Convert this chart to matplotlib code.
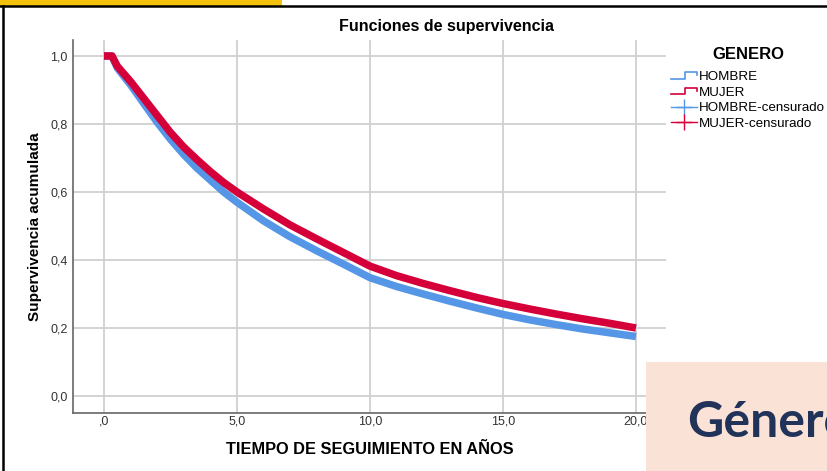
import numpy as np
import matplotlib
matplotlib.use("Agg")
import matplotlib.pyplot as plt
from matplotlib.lines import Line2D
from matplotlib.patches import Rectangle
from matplotlib.legend_handler import HandlerBase

# Kaplan-Meier survival estimates by sex (years of follow-up)
tiempo = [0.0, 0.3, 0.5, 1.0, 1.5, 2.0, 2.5, 3.0, 3.5, 4.0, 4.5, 5.0, 6.0, 7.0, 8.0, 9.0,
          10.0, 11.0, 12.0, 13.0, 14.0, 15.0, 16.0, 17.0, 18.0, 19.0, 20.0]
hombre = [1.0, 1.0, 0.965, 0.915, 0.86, 0.805, 0.755, 0.71, 0.67, 0.635, 0.60, 0.57,
          0.515, 0.468, 0.427, 0.388, 0.348, 0.322, 0.30, 0.279, 0.259, 0.24,
          0.224, 0.21, 0.197, 0.186, 0.175]
mujer = [1.0, 1.0, 0.97, 0.925, 0.875, 0.825, 0.775, 0.732, 0.695, 0.66, 0.628, 0.60,
         0.55, 0.503, 0.462, 0.422, 0.382, 0.354, 0.331, 0.31, 0.29, 0.272,
         0.256, 0.241, 0.227, 0.214, 0.20]

x_ticks = [0, 5, 10, 15, 20]
x_labels = [",0", "5,0", "10,0", "15,0", "20,0"]
y_ticks = [0.0, 0.2, 0.4, 0.6, 0.8, 1.0]
y_labels = ["0,0", "0,2", "0,4", "0,6", "0,8", "1,0"]

C_H = "#5596E6"
C_M = "#D5003A"
FONT = "Liberation Sans"

plt.rcParams["font.family"] = [FONT, "DejaVu Sans"]

W, H = 827, 471
fig = plt.figure(figsize=(W / 100, H / 100), dpi=100)
fig.patch.set_facecolor("white")

ax = fig.add_axes([73 / W, 1 - 413 / H, (666 - 73) / W, (413 - 40) / H])
ax.set_xlim(-1.165, 21.13)
ax.set_ylim(-0.05, 1.047)

ax.plot(tiempo, hombre, color=C_H, lw=5.4, solid_capstyle="butt",
        solid_joinstyle="round", zorder=3)
ax.plot(tiempo, mujer, color=C_M, lw=5.4, solid_capstyle="butt",
        solid_joinstyle="round", zorder=4)

ax.set_xticks(x_ticks)
ax.set_xticklabels(x_labels)
ax.set_yticks(y_ticks)
ax.set_yticklabels(y_labels)
ax.tick_params(axis="y", length=0, labelsize=9, colors="#333333", pad=4)
ax.tick_params(axis="x", length=0, labelsize=9, colors="#333333", pad=2)
ax.grid(True, color="#D0D0D0", lw=1.3)
ax.set_axisbelow(True)
for s in ["top", "right"]:
    ax.spines[s].set_visible(False)
for s in ["left", "bottom"]:
    ax.spines[s].set_color("#666666")
    ax.spines[s].set_linewidth(1.2)

fig.text(447 / W, 1 - 27 / H, "Funciones de supervivencia", fontsize=11.5,
         fontweight="bold", ha="center", va="center")
ax.set_xlabel("TIEMPO DE SEGUIMIENTO EN AÑOS", fontsize=11.8, fontweight="bold", labelpad=10)
ax.set_ylabel("Supervivencia acumulada", fontsize=11, fontweight="bold", labelpad=6)


class StepHandler(HandlerBase):
    def create_artists(self, legend, orig_handle, xdescent, ydescent, width, height,
                       fontsize, trans):
        x = np.array([0, 0.55, 0.55, 1.0, 1.0]) * width - xdescent
        y = np.array([0.15, 0.15, 0.85, 0.85, 0.55]) * height - ydescent
        ln = Line2D(x, y, color=orig_handle.get_color(), lw=1.2)
        ln.set_transform(trans)
        return [ln]


h1 = Line2D([], [], color=C_H)
h2 = Line2D([], [], color=C_M)
h3 = Line2D([], [], color=C_H, marker="+", markersize=11, lw=1.0)
h4 = Line2D([], [], color=C_M, marker="+", markersize=11, lw=1.0)
leg = fig.legend([h1, h2, h3, h4],
                 ["HOMBRE", "MUJER", "HOMBRE-censurado", "MUJER-censurado"],
                 handler_map={h1: StepHandler(), h2: StepHandler()},
                 loc="upper left", bbox_to_anchor=(666 / W, 1 - 42 / H),
                 frameon=False, fontsize=9.6, title="GENERO",
                 handlelength=1.9, handletextpad=0.2, labelspacing=0.25,
                 borderaxespad=0, numpoints=1)
leg.get_title().set_fontweight("bold")
leg.get_title().set_fontsize(12)
leg._legend_box.sep = 6

# slide decorations
fig.patches.append(Rectangle((0, 1 - 6 / H), 282 / W, 6 / H, transform=fig.transFigure,
                             facecolor="#F4C20D", edgecolor="none", zorder=0))
fig.add_artist(Line2D([0, 1], [1 - 6 / H, 1 - 6 / H], transform=fig.transFigure,
                      color="black", lw=1.8))
fig.add_artist(Line2D([3 / W, 3 / W], [0, 1 - 6 / H], transform=fig.transFigure,
                      color="black", lw=1.8))
fig.text(88 / W, 1 - 0.5 / H, "DE ESPAÑA", fontsize=9, color="#3A3A3A", va="baseline")
fig.text(180 / W, 1 - 0.5 / H, "DE SANIDAD", fontsize=9, color="#3A3A3A", va="baseline")

fig.patches.append(Rectangle((646 / W, 0), 1 - 646 / W, (471 - 362) / H,
                             transform=fig.transFigure, facecolor="#FAE3D6",
                             edgecolor="none", zorder=5))
fig.text(687 / W, 1 - 437 / H, "Género", fontsize=36, fontweight="bold",
         color="#22335A", family=["Lato", "DejaVu Sans"], va="baseline", zorder=6)

fig.savefig("out.png", dpi=100)
